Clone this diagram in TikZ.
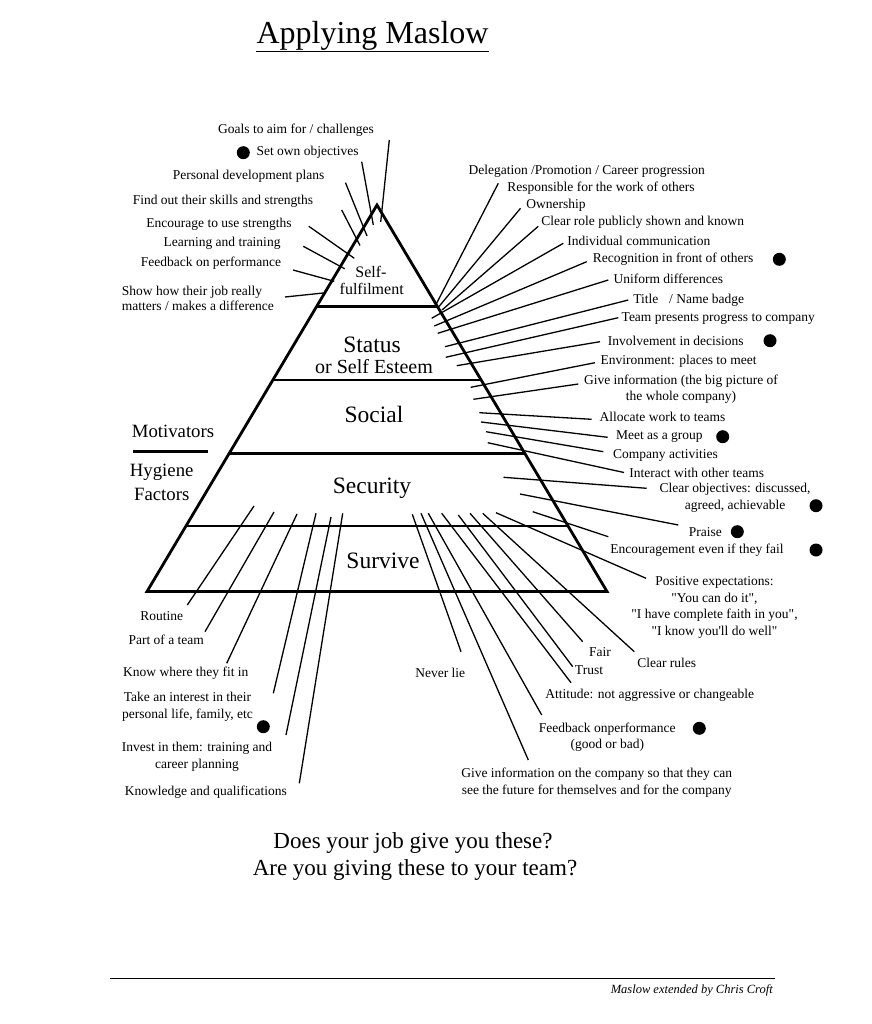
\documentclass[tikz,border=0pt]{standalone}
\usepackage{fontspec}
\setmainfont{Liberation Serif}[Ligatures=TeXOff]
\begin{document}
\begin{tikzpicture}[x=1pt,y=-1pt,
  lbl/.style={font=\fontsize{13.5}{16.5}\selectfont, inner sep=0pt, align=center},
  tier/.style={font=\fontsize{23.5}{26}\selectfont, inner sep=0pt},
  side/.style={font=\fontsize{18.75}{22}\selectfont, inner sep=0pt},
  conn/.style={line width=1.3pt},
  thick line/.style={line width=2.8pt},
  dot/.style={circle, fill=black, minimum size=13pt, inner sep=0pt}]
\useasboundingbox (0,0) rectangle (871,1024);

% title
\node[font=\fontsize{32}{36}\selectfont, inner sep=0pt] (title) at (372.5,36) {Applying Maslow};
\coordinate (ulA) at (256,51.5); \coordinate (ulB) at (489,51.5);
\draw[line width=1.5pt] (ulA) -- (ulB);

% pyramid
\coordinate (apex) at (377,205);
\coordinate (bl) at (147,591.5);
\coordinate (br) at (607,591.5);
\draw[thick line, line join=miter] (apex) -- (br) -- (bl) -- cycle;
\coordinate (h1a) at (316.5,306.7); \coordinate (h1b) at (437.5,306.7);
\coordinate (h2a) at (272.9,380);   \coordinate (h2b) at (481.1,380);
\coordinate (h3a) at (229.2,453.3); \coordinate (h3b) at (524.8,453.3);
\coordinate (h4a) at (185.9,526);   \coordinate (h4b) at (568.1,526);
\draw[thick line] (h1a) -- (h1b);
\draw[thick line] (h2a) -- (h2b);
\draw[thick line] (h3a) -- (h3b);
\draw[thick line] (h4a) -- (h4b);

% tier texts
\node[font=\fontsize{16}{18}\selectfont, inner sep=0pt] (self1) at (371,271.5) {Self-};
\node[font=\fontsize{16}{18}\selectfont, inner sep=0pt] (self2) at (371.7,288.5) {fulfilment};
\node[tier] (status) at (372,344.5) {Status};
\node[font=\fontsize{20}{22}\selectfont, inner sep=0pt] (esteem) at (374,366.5) {or Self Esteem};
\node[tier] (social) at (374,414) {Social};
\node[tier] (security) at (372,488) {Security};
\node[tier] (survive) at (383,561) {Survive};

% side texts
\node[side] (motiv) at (173,431) {Motivators};
\coordinate (mlA) at (133,451.7); \coordinate (mlB) at (208,451.7);
\draw[thick line] (mlA) -- (mlB);
\node[side] (hyg1) at (161.7,472.5) {Hygiene};
\node[side] (hyg2) at (161.7,494.5) {Factors};

% left top labels
\node[lbl] (goals) at (296,130.7) {Goals to aim for / challenges};
\node[dot] (dgoal) at (243.3,152.7) {};
\node[lbl] (setown) at (307.5,152.7) {Set own objectives};
\node[lbl] (pdp) at (248.5,176.7) {Personal development plans};
\node[lbl] (find) at (223,201) {Find out their skills and strengths};
\node[lbl] (encu) at (219,224.3) {Encourage to use strengths};
\node[lbl] (learn) at (222,243.3) {Learning and training};
\node[lbl] (fbp) at (211,263.3) {Feedback on performance};
\node[lbl, align=left, anchor=west, font=\fontsize{13.5}{15.3}\selectfont] (show) at (121.7,298.5) {Show how their job really\\matters / makes a difference};

% right top labels
\node[lbl] (deleg) at (586.7,171) {Delegation /Promotion / Career progression};
\node[lbl] (resp) at (601,188.3) {Responsible for the work of others};
\node[lbl] (own) at (556,205.7) {Ownership};
\node[lbl] (clearrole) at (642.7,222.7) {Clear role publicly shown and known};
\node[lbl] (indiv) at (638.8,241) {Individual communication};
\node[lbl] (recog) at (673,259.3) {Recognition in front of others};
\node[dot] (drecog) at (779.3,259.3) {};
\node[lbl] (unif) at (668.3,279.3) {Uniform differences};
\node[lbl] (titleb) at (688.8,300) {Title\hspace{0.8em}/ Name badge};
\node[lbl] (team) at (718.3,319) {Team presents progress to company};
\node[lbl] (invol) at (675.8,340.7) {Involvement in decisions};
\node[dot] (dinvol) at (770,340.7) {};
\node[lbl] (env) at (678.5,361) {Environment: places to meet};
\node[lbl] (giveinfo) at (681,389.3) {Give information (the big picture of\\the whole company)};
\node[lbl] (alloc) at (662.5,416.7) {Allocate work to teams};
\node[lbl] (meet) at (659.3,436.7) {Meet as a group};
\node[dot] (dmeet) at (722.7,436.7) {};
\node[lbl] (compact) at (665.5,455) {Company activities};
\node[lbl] (inter) at (696.7,473.3) {Interact with other teams};
\node[lbl] (clearobj) at (735,497.8) {Clear objectives: discussed,\\agreed, achievable};
\node[dot] (dclearobj) at (816,505.7) {};
\node[lbl] (praise) at (705.3,531.7) {Praise};
\node[dot] (dpraise) at (737.3,531.7) {};
\node[lbl] (encour) at (697,550) {Encouragement even if they fail};
\node[dot] (dencour) at (816,550) {};
\node[lbl] (posexp) at (714.5,607.5) {Positive expectations:\\"You can do it",\\"I have complete faith in you",\\"I know you'll do well"};
\node[lbl] (fair) at (600,652.3) {Fair};
\node[lbl] (trust) at (589,670) {Trust};
\node[lbl] (rules) at (666.7,662.7) {Clear rules};
\node[lbl] (never) at (440.3,672.7) {Never lie};
\node[lbl] (attit) at (649.8,695) {Attitude: not aggressive or changeable};
\node[lbl] (fbperf) at (607.3,737) {Feedback onperformance\\(good or bad)};
\node[dot] (dfbperf) at (699.3,728.3) {};
\node[lbl] (giveco) at (596.7,782.5) {Give information on the company so that they can\\see the future for themselves and for the company};

% left bottom labels
\node[lbl] (routine) at (161.7,616) {Routine};
\node[lbl] (part) at (166.2,640) {Part of a team};
\node[lbl] (know) at (185.8,672.7) {Know where they fit in};
\node[lbl] (take) at (187.5,707) {Take an interest in their\\personal life, family, etc};
\node[dot] (dtake) at (263.3,726.7) {};
\node[lbl] (invest) at (197,756.7) {Invest in them: training and\\career planning};
\node[lbl] (knowl) at (205.8,791.7) {Knowledge and qualifications};

% connectors: name / inner x / inner y / outer x / outer y
\foreach \n/\ax/\ay/\bx/\by in {
  sfA/380.7/222/389.3/140,
  sfB/373.3/225/361.7/161.7,
  sfC/367/236/345.5/182.7,
  sfD/360/245.5/341.7/210,
  sfE/354.3/258.3/308.8/226.3,
  sfF/344.7/268.8/303.3/246.3,
  sfG/334.2/281.3/293/270,
  sfH/323.3/293/285/297,
  stA/436.5/303.5/498.3/183.3,
  stB/439/306.5/520.5/208.3,
  stC/442/310/538.3/226.3,
  stD/431.7/318.3/563.3/243.3,
  stE/434.3/326/586.7/261.7,
  stF/437.7/333.3/608.3/280,
  stG/445/346.7/628.3/300,
  stH/445.7/357.3/618.3/317.7,
  stI/456.7/365.7/600/341.7,
  stJ/470.7/387.3/595/362.7,
  stK/473.3/399.3/578.3/384,
  soA/479.3/412.7/591.7/419.3,
  soB/481/422/607.7/437.3,
  soC/486/431.7/603.3/451.7,
  soD/487.7/442.7/624/472.5,
  seA/503.5/477.3/646.7/488.3,
  seB/520/494/678.3/525,
  seC/532.7/511.7/608.3/536.7,
  brA/412.3/514.3/461/651.7,
  brB/421/513.3/528.3/760,
  brC/428.3/513.3/541.7/715,
  brD/441.7/513.3/571/682.7,
  brE/458.3/515/572.7/666.7,
  brF/470/513.3/582.7/641.7,
  brG/482.7/513.3/634.3/651.7,
  brH/496/512.7/646/578.3,
  blA/254/506/187.3/605,
  blB/274/512/205/631.7,
  blC/297/514/226.7/663.3,
  blD/316/513.3/273.3/693.3,
  blE/331/517/286/735,
  blF/342.7/513.3/299.3/783.3}{
  \coordinate (\n-in) at (\ax,\ay);
  \coordinate (\n-out) at (\bx,\by);
  \draw[conn] (\n-in) -- (\n-out);
}

% bottom questions
\node[font=\fontsize{23}{27}\selectfont, inner sep=0pt] (q1) at (413,843) {Does your job give you these?};
\node[font=\fontsize{23}{27}\selectfont, inner sep=0pt] (q2) at (415,870) {Are you giving these to your team?};

% footer
\coordinate (flA) at (110,978); \coordinate (flB) at (775,978);
\draw[line width=1pt] (flA) -- (flB);
\node[font=\fontsize{12.5}{14}\selectfont\itshape, inner sep=0pt, anchor=east] (foot) at (773,990) {Maslow extended by Chris Croft};
\end{tikzpicture}
\end{document}
